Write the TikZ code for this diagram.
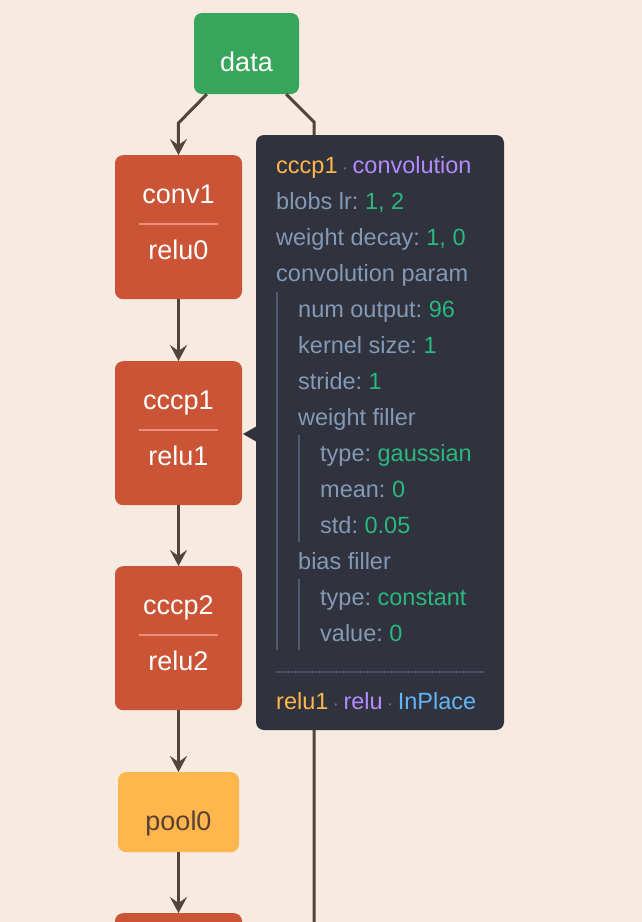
\documentclass[tikz,border=0pt]{standalone}
\usepackage{fontspec}
\setmainfont{Liberation Sans}
\usetikzlibrary{arrows.meta}
\usetikzlibrary{positioning}

\definecolor{bgcream}{HTML}{F6EAE1}
\definecolor{datagreen}{HTML}{37A55B}
\definecolor{convred}{HTML}{CB5336}
\definecolor{poolorange}{HTML}{FFB74D}
\definecolor{pooltext}{HTML}{5A3F33}
\definecolor{edgebrown}{HTML}{53433B}
\definecolor{tipbg}{HTML}{30323D}
\definecolor{keyblue}{HTML}{8499B6}
\definecolor{valgreen}{HTML}{29B97E}
\definecolor{nameorange}{HTML}{FFB74D}
\definecolor{typepurple}{HTML}{B48AFF}
\definecolor{inblue}{HTML}{64B5F6}
\definecolor{sepgray}{HTML}{7A8092}
\definecolor{barcol}{HTML}{4F5B72}
\definecolor{divcol}{HTML}{E8907A}

\tikzset{>={Stealth[length=16pt,width=17pt,inset=6pt]}}
\tikzset{
    layer/.style={fill=convred, rounded corners=8pt, minimum width=127pt, minimum height=144pt, inner sep=0pt},
    datanode/.style={fill=datagreen, rounded corners=8pt, minimum width=105pt, minimum height=81pt, inner sep=0pt},
    poolnode/.style={fill=poolorange, rounded corners=8pt, minimum width=121pt, minimum height=80pt, inner sep=0pt},
    ltext/.style={text=white, font=\fontsize{27}{30}\selectfont, inner sep=0pt, anchor=base},
    edge/.style={draw=edgebrown, line width=3pt},
    divider/.style={draw=divcol, line width=1.5pt},
    tooltip/.style={fill=tipbg, rounded corners=8pt, minimum width=248pt, minimum height=595pt, inner sep=0pt},
    tline/.style={text=keyblue, font=\fontsize{23.5}{26}\selectfont, inner sep=0pt, anchor=base west},
    bar/.style={draw=barcol, line width=2pt},
}
\newcommand{\kv}[2]{#1:~\textcolor{valgreen}{#2}}
\newcommand{\sepdot}{\textcolor{sepgray}{\fontsize{17}{17}\selectfont\ ·\ }}

\begin{document}
\begin{tikzpicture}[x=1pt,y=-1pt]
    \clip (0,0) rectangle (642,922);
    \fill[bgcream] (0,0) rectangle (642,922);

    % nodes of the net
    \node[datanode] (data) at (246.5,53.5) {};
    \node[ltext] (data-t) at (246.5,71) {data};
    \foreach \name/\top/\a/\b in {conv1/155/conv1/relu0, cccp1/361/cccp1/relu1, cccp2/566/cccp2/relu2}{
        \node[layer, anchor=north] (\name) at (178.5,\top) {};
        \node[ltext] (\name-a) at ([yshift=-48pt]\name.north) {\a};
        \draw[divider] ([xshift=-39.5pt,yshift=-69pt]\name.north) -- ([xshift=39.5pt,yshift=-69pt]\name.north);
        \node[ltext] (\name-b) at ([yshift=-104pt]\name.north) {\b};
    }
    \node[poolnode, anchor=north] (pool0) at (178.5,772) {};
    \node[ltext, text=pooltext] (pool0-t) at (178.5,830) {pool0};
    \node[layer, anchor=north] (cccp3) at (178.5,913) {};
    \coordinate (out) at (314,922);

    % connectors
    \draw[edge,->] ([xshift=13pt]data.south west) -- ++(-28.5,29) -- (conv1.north);
    \draw[edge] ([xshift=-13pt]data.south east) -- ++(28,28) -- (out);
    \foreach \a/\b in {conv1/cccp1, cccp1/cccp2, cccp2/pool0, pool0/cccp3}
        \draw[edge,->] (\a) -- (\b);

    % tooltip of cccp1
    \node[tooltip] (tip) at (380,432.5) {};
    \fill[tipbg] (257,426) -- (243,434) -- (257,442) -- cycle;
    \node[tline] (t0) at (276,173) {\textcolor{nameorange}{cccp1}\sepdot\textcolor{typepurple}{convolution}};
    \node[tline] (t1) at (276,209) {\kv{blobs lr}{1, 2}};
    \node[tline] (t2) at (276,245) {\kv{weight decay}{1, 0}};
    \node[tline] (t3) at (276,281) {convolution param};
    \node[tline] (t4) at (298,317) {\kv{num output}{96}};
    \node[tline] (t5) at (298,353) {\kv{kernel size}{1}};
    \node[tline] (t6) at (298,389) {\kv{stride}{1}};
    \node[tline] (t7) at (298,425) {weight filler};
    \node[tline] (t8) at (320,461) {\kv{type}{gaussian}};
    \node[tline] (t9) at (320,497) {\kv{mean}{0}};
    \node[tline] (t10) at (320,533) {\kv{std}{0.05}};
    \node[tline] (t11) at (298,569) {bias filler};
    \node[tline] (t12) at (320,605) {\kv{type}{constant}};
    \node[tline] (t13) at (320,641) {\kv{value}{0}};
    \draw[bar] (277,292) -- (277,650);
    \draw[bar] (299,435) -- (299,542);
    \draw[bar] (299,579) -- (299,650);
    \draw[draw=barcol, line width=1.5pt, dash pattern=on 1.5pt off 1.5pt] (276,672) -- (484,672);
    \node[tline] (t14) at (276,709) {\textcolor{nameorange}{relu1}\sepdot\textcolor{typepurple}{relu}\sepdot\textcolor{inblue}{InPlace}};
\end{tikzpicture}
\end{document}
